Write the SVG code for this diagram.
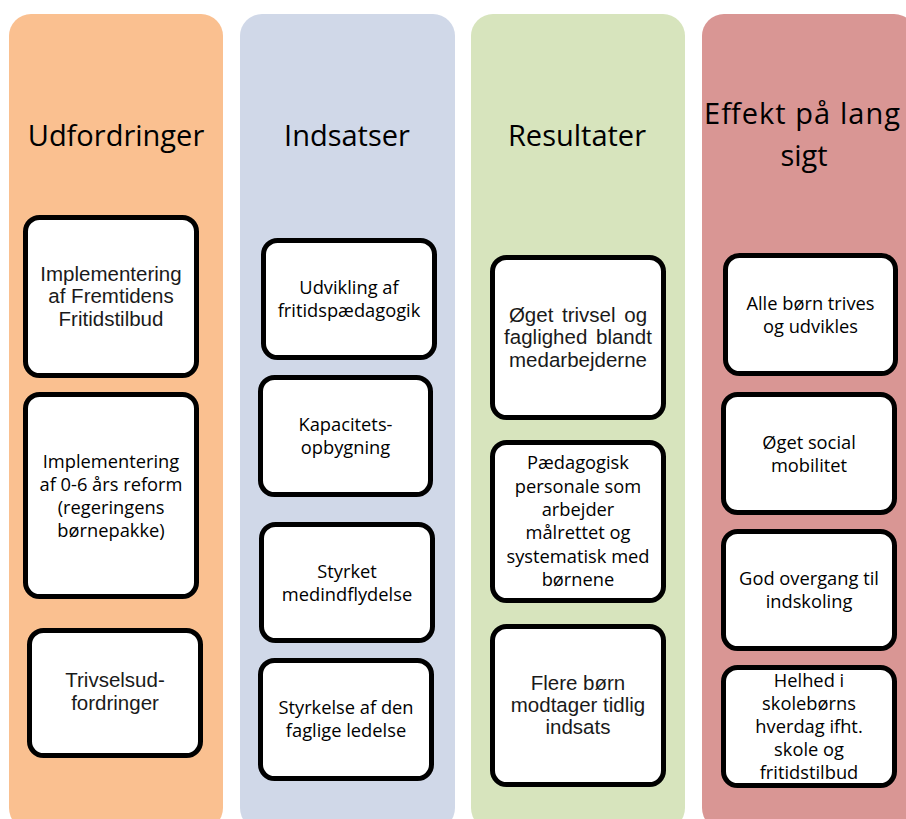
<svg xmlns="http://www.w3.org/2000/svg" width="906" height="819" viewBox="0 0 906 819">
<style>
.col{stroke:none}
.box{fill:#fff;stroke:#000;stroke-width:5}
.h{font-family:"Open Sans","Liberation Sans",sans-serif;font-size:29px;fill:#000;text-anchor:middle}
.c{font-family:"Open Sans","Liberation Sans",sans-serif;font-size:18.3px;fill:#000;text-anchor:middle}
.a{font-family:"Liberation Sans",Arial,sans-serif;font-size:20.5px;fill:#1a1a1a;text-anchor:middle}
</style>
<rect width="906" height="819" fill="#fff"/>
<g id="columns">
<rect class="col" x="9" y="14" width="214" height="816" rx="22" fill="#FAC090"/>
<rect class="col" x="240" y="14" width="215" height="816" rx="22" fill="#D0D8E8"/>
<rect class="col" x="471" y="14" width="214" height="816" rx="22" fill="#D7E4BD"/>
<rect class="col" x="702" y="14" width="214" height="816" rx="22" fill="#D99694"/>
</g>
<g id="headers">
<text class="h" x="116" y="146">Udfordringer</text>
<text class="h" x="347" y="146">Indsatser</text>
<text class="h" x="577" y="146">Resultater</text>
<text class="h" x="802" y="124" textLength="196" lengthAdjust="spacing">Effekt på lang</text>
<text class="h" x="804" y="166">sigt</text>
</g>
<g id="connectors"/>
<g id="u1"><rect class="box" x="25.5" y="217.5" width="171" height="158" rx="14"/>
<text class="a" x="111" y="281">Implementering</text><text class="a" x="111" y="303">af Fremtidens</text><text class="a" x="111" y="325.5">Fritidstilbud</text></g>
<g id="u2"><rect class="box" x="25.5" y="394.5" width="171" height="202" rx="14"/>
<text class="c" x="111" y="468">Implementering</text><text class="c" x="111" y="491">af 0-6 års reform</text><text class="c" x="111" y="514">(regeringens</text><text class="c" x="111" y="537">børnepakke)</text></g>
<g id="u3"><rect class="box" x="29.5" y="630.5" width="171" height="125" rx="14"/>
<text class="a" x="115" y="687">Trivselsud-</text><text class="a" x="115" y="710">fordringer</text></g>

<g id="i1"><rect class="box" x="263.5" y="240.5" width="171" height="117" rx="14"/>
<text class="c" x="349" y="294">Udvikling af</text><text class="c" x="349" y="317">fritidspædagogik</text></g>
<g id="i2"><rect class="box" x="260.5" y="377.5" width="170" height="117" rx="14"/>
<text class="c" x="345.5" y="431">Kapacitets-</text><text class="c" x="345.5" y="454">opbygning</text></g>
<g id="i3"><rect class="box" x="261.5" y="524.5" width="171" height="116" rx="14"/>
<text class="c" x="347" y="578">Styrket</text><text class="c" x="347" y="601">medindflydelse</text></g>
<g id="i4"><rect class="box" x="260.5" y="660.5" width="171" height="118" rx="14"/>
<text class="c" x="346" y="714">Styrkelse af den</text><text class="c" x="346" y="737">faglige ledelse</text></g>

<g id="r1"><rect class="box" x="492.5" y="257.5" width="171" height="160" rx="14"/>
<text class="a" x="578" y="322" word-spacing="3">Øget trivsel og</text><text class="a" x="578" y="344" word-spacing="3">faglighed blandt</text><text class="a" x="578" y="367">medarbejderne</text></g>
<g id="r2"><rect class="box" x="492.5" y="442.5" width="171" height="158" rx="14"/>
<text class="c" x="578" y="469">Pædagogisk</text><text class="c" x="578" y="493">personale som</text><text class="c" x="578" y="516">arbejder</text><text class="c" x="578" y="539">målrettet og</text><text class="c" x="578" y="563">systematisk med</text><text class="c" x="578" y="586">børnene</text></g>
<g id="r3"><rect class="box" x="492.5" y="626.5" width="171" height="158" rx="14"/>
<text class="a" x="578" y="690">Flere børn</text><text class="a" x="578" y="712">modtager tidlig</text><text class="a" x="578" y="734">indsats</text></g>

<g id="e1"><rect class="box" x="725.5" y="255.5" width="170" height="118" rx="14"/>
<text class="c" x="810.5" y="310">Alle børn trives</text><text class="c" x="810.5" y="333">og udvikles</text></g>
<g id="e2"><rect class="box" x="723.5" y="394.5" width="171" height="118" rx="14"/>
<text class="c" x="809" y="449">Øget social</text><text class="c" x="809" y="472">mobilitet</text></g>
<g id="e3"><rect class="box" x="723.5" y="531.5" width="171" height="117" rx="14"/>
<text class="c" x="809" y="585">God overgang til</text><text class="c" x="809" y="608">indskoling</text></g>
<g id="e4"><rect class="box" x="723.5" y="667.5" width="171" height="118" rx="14"/>
<text class="c" x="809" y="687">Helhed i</text><text class="c" x="809" y="710">skolebørns</text><text class="c" x="809" y="733">hverdag ifht.</text><text class="c" x="809" y="756">skole og</text><text class="c" x="809" y="779">fritidstilbud</text></g>
</svg>
